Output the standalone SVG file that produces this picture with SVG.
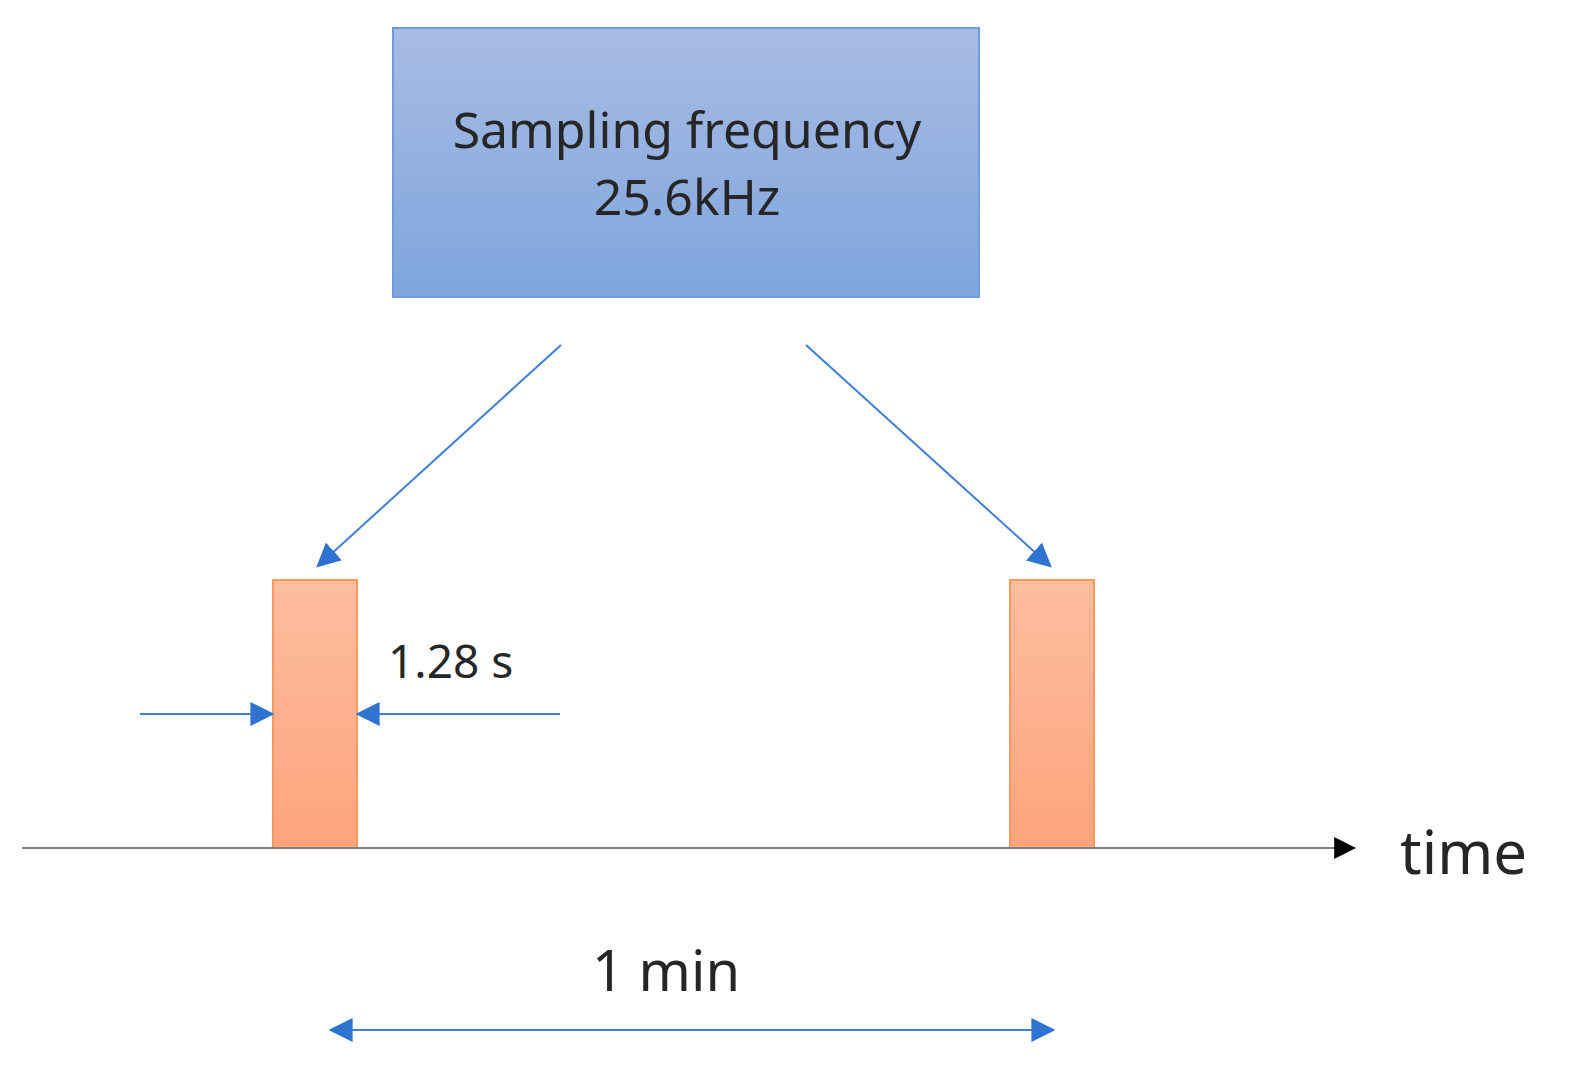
<svg xmlns="http://www.w3.org/2000/svg" width="1595" height="1083" viewBox="0 0 1595 1083">
<style>
text{font-family:"Noto Sans","Open Sans",sans-serif;fill:#262626}
.b{stroke:#3f7fd6;stroke-width:2;fill:none}
</style>
<defs>
<linearGradient id="gb" x1="0" y1="0" x2="0" y2="1"><stop offset="0" stop-color="#a8bce3"/><stop offset="1" stop-color="#7ea5dd"/></linearGradient>
<linearGradient id="go" x1="0" y1="0" x2="0" y2="1"><stop offset="0" stop-color="#fdbd9f"/><stop offset="1" stop-color="#fda47c"/></linearGradient>
<marker id="ab" viewBox="0 0 10 10" refX="9" refY="5" markerWidth="12" markerHeight="12" markerUnits="userSpaceOnUse" orient="auto-start-reverse"><path d="M0,0L10,5L0,10z" fill="#2f73d0" transform="scale(1)"/></marker>
<marker id="ab2" viewBox="0 0 10 10" refX="9" refY="5" markerWidth="24" markerHeight="24" markerUnits="userSpaceOnUse" orient="auto-start-reverse"><path d="M0,0L10,5L0,10z" fill="#2f73d0"/></marker>
<marker id="ak" viewBox="0 0 10 10" refX="9" refY="5" markerWidth="22" markerHeight="22" markerUnits="userSpaceOnUse" orient="auto"><path d="M0,0L10,5L0,10z" fill="#000"/></marker>
</defs>
<g id="box"><rect x="393" y="28" width="586" height="269" fill="url(#gb)" stroke="#6f9be0" stroke-width="2"/>
<text x="687" y="148" font-size="50" text-anchor="middle">Sampling frequency</text>
<text x="687" y="215" font-size="50" text-anchor="middle">25.6kHz</text></g>
<g id="pulse1"><rect x="273" y="580" width="84" height="268" fill="url(#go)" stroke="#f7985f" stroke-width="2"/></g>
<g id="pulse2"><rect x="1010" y="580" width="84" height="268" fill="url(#go)" stroke="#f7985f" stroke-width="2"/></g>
<g id="labels">
<text x="388" y="678" font-size="46">1.28 s</text>
<text x="592" y="991" font-size="56">1 min</text>
<text x="1400" y="874" font-size="60" fill="#000">time</text>
</g>
<g id="connectors">
<line x1="22" y1="848" x2="1354" y2="848" stroke="#7f7f7f" stroke-width="2" marker-end="url(#ak)"/>
<line class="b" x1="561" y1="345" x2="318" y2="566" marker-end="url(#ab2)"/>
<line class="b" x1="806" y1="345" x2="1050" y2="566" marker-end="url(#ab2)"/>
<line class="b" x1="140" y1="714" x2="272" y2="714" marker-end="url(#ab2)"/>
<line class="b" x1="560" y1="714" x2="358" y2="714" marker-end="url(#ab2)"/>
<line class="b" x1="331" y1="1030" x2="1053" y2="1030" marker-start="url(#ab2)" marker-end="url(#ab2)"/>
</g>
</svg>
